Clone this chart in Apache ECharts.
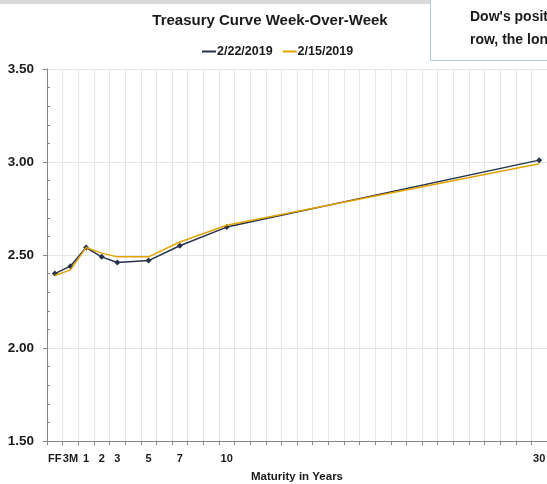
<!DOCTYPE html>
<html>
<head>
<meta charset="utf-8">
<script src="https://cdn.jsdelivr.net/npm/echarts@6/dist/echarts.min.js"></script>
<style>html,body{margin:0;padding:0;background:#fff;}#c{width:547px;height:484px;}</style>
</head>
<body>
<div id="c"></div>
<script>
// Categories (one per year slot; FF and 3M first)
var categories = ['FF','3M','1','2','3','4','5','6','7','8','9','10','11','12','13','14','15','16','17','18','19','20','21','22','23','24','25','26','27','28','29','30'];
var tickLabels = ['FF','3M','1','2','3','5','7','10','30'];
var seriesNames = ['2/22/2019','2/15/2019'];
// Yields at each maturity (null = no observation)
var yields0222 = [2.40,2.44,2.54,2.49,2.46,null,2.47,null,2.55,null,null,2.65,null,null,null,null,null,null,null,null,null,null,null,null,null,null,null,null,null,null,null,3.01];
var yields0215 = [2.39,2.42,2.54,2.51,2.49,null,2.49,null,2.57,null,null,2.66,null,null,null,null,null,null,null,null,null,null,null,null,null,null,null,null,null,null,null,2.99];
var boxLines = ["Dow's position", "row, the longest"];

var FONT = '"Liberation Sans", Arial, sans-serif';
var chart = echarts.init(document.getElementById('c'), null, {renderer:'canvas'});
chart.setOption({
  animation: false,
  backgroundColor: '#fff',
  title: {
    text: 'Treasury Curve Week-Over-Week',
    left: 265, top: 8, textAlign: 'center',
    textStyle: {fontFamily: FONT, fontWeight: 'bold', fontSize: 15, color: '#1a1a1a'}
  },
  legend: {
    data: seriesNames,
    left: 197, top: 40,
    itemWidth: 14, itemHeight: 2, itemGap: 10,
    icon: 'rect',
    textStyle: {fontFamily: FONT, fontWeight: 'bold', fontSize: 12.5, color: '#1a1a1a', padding: [0,0,0,-4]}
  },
  grid: {left: 47, top: 69, width: 500, height: 372, outerBoundsMode: 'none', containLabel: false},
  xAxis: {
    type: 'category',
    data: categories,
    boundaryGap: true,
    name: 'Maturity in Years',
    nameLocation: 'middle',
    nameGap: 30,
    nameTextStyle: {fontFamily: FONT, fontWeight: 'bold', fontSize: 11.5, color: '#1a1a1a'},
    axisLine: {lineStyle: {color: '#868686', width: 1}},
    axisTick: {show: true, interval: 0, length: 4, lineStyle: {color: '#868686'}},
    splitLine: {show: true, interval: 0, lineStyle: {color: '#E6E6E6', width: 1}},
    axisLabel: {
      interval: 0, margin: 12,
      fontFamily: FONT, fontWeight: 'bold', fontSize: 11, color: '#1a1a1a',
      formatter: function (v) { return tickLabels.indexOf(v) >= 0 ? v : ''; }
    }
  },
  yAxis: [{
    type: 'value', min: 1.5, max: 3.5, interval: 0.5,
    axisLine: {show: true, lineStyle: {color: '#868686', width: 1}},
    axisTick: {show: true, inside: false, length: 4, lineStyle: {color: '#868686'}},
    splitLine: {show: true, lineStyle: {color: '#E6E6E6', width: 1}},
    axisLabel: {
      margin: 13, fontFamily: FONT, fontWeight: 'bold', fontSize: 13.5, color: '#1a1a1a',
      formatter: function (v) { return v.toFixed(2); }
    }
  }, {
    type: 'value', min: 1.5, max: 3.5, interval: 0.5, position: 'left', offset: -3,
    axisLine: {show: false},
    axisTick: {show: false, inside: false},
    minorTick: {show: true, splitNumber: 5, length: 3, lineStyle: {color: '#868686'}},
    splitLine: {show: false},
    axisLabel: {show: false}
  }],
  series: [{
    name: seriesNames[0], type: 'line', data: yields0222, connectNulls: true,
    symbol: 'diamond', symbolSize: 6, showSymbol: true,
    lineStyle: {color: '#26324C', width: 1.5},
    itemStyle: {color: '#26324C'},
    z: 2
  }, {
    name: seriesNames[1], type: 'line', data: yields0215, connectNulls: true,
    symbol: 'none', showSymbol: false,
    lineStyle: {color: '#E3A300', width: 1.5},
    itemStyle: {color: '#E3A300'},
    z: 3
  }],
  graphic: [
    {type: 'rect', shape: {x: 0, y: 0, width: 430, height: 4}, style: {fill: '#D9D9D9'}, z: 10},
    {type: 'rect', shape: {x: 430.5, y: -2, width: 140, height: 62.5}, style: {fill: '#fff', stroke: '#B7C7DE', lineWidth: 1}, z: 10},
    {type: 'text', x: 470, y: 10, style: {text: boxLines[0], font: 'bold 14px ' + FONT, fill: '#1a1a1a'}, z: 11},
    {type: 'text', x: 470, y: 33, style: {text: boxLines[1], font: 'bold 14px ' + FONT, fill: '#1a1a1a'}, z: 11}
  ]
});
</script>
</body>
</html>
